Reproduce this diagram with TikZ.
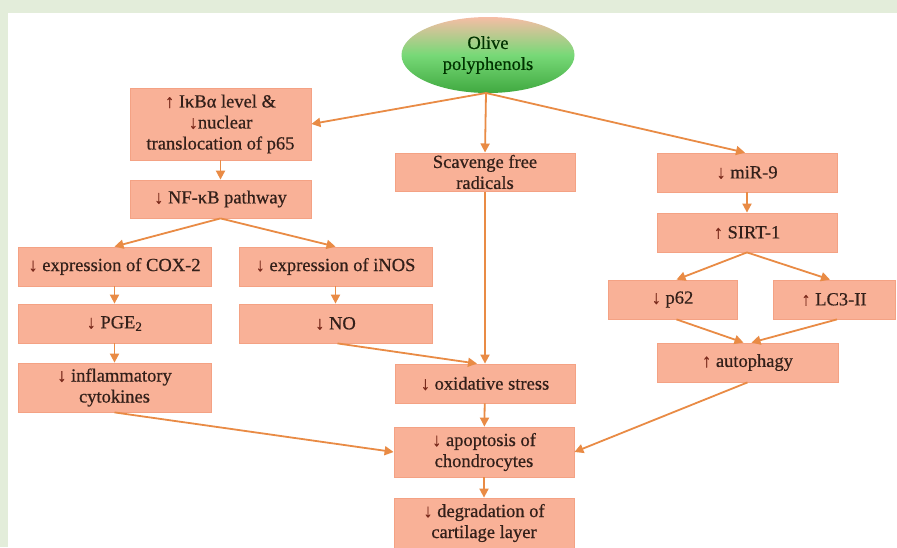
\documentclass[tikz,border=0pt]{standalone}
\usepackage{fontspec}
\setmainfont{Liberation Serif}
\newfontfamily\heavy{Liberation Serif}[FakeBold=0.6]
\usetikzlibrary{arrows.meta,shapes.geometric}
\definecolor{bggreen}{HTML}{E3EDDA}
\definecolor{boxfill}{HTML}{F9B197}
\definecolor{boxedge}{HTML}{F4A284}
\definecolor{arr}{HTML}{E98B45}
\definecolor{txt}{HTML}{33201A}
\definecolor{arrtxt}{HTML}{7A2A1C}
\newcommand{\dn}{{\color{arrtxt}↓}}
\newcommand{\upa}{{\color{arrtxt}↑}}
\tikzset{
  pbox/.style={rectangle, fill=boxfill, draw=boxedge, line width=0.8pt, text=txt,
    font=\heavy\fontsize{18.5}{21}\selectfont, align=center, inner sep=2pt},
  conn/.style={draw=arr, line width=1.8pt, -{Triangle[length=9pt,width=9pt]}},
}
\begin{document}
\begin{tikzpicture}[x=1pt,y=-1pt]
\useasboundingbox (0,0) rectangle (897,547);
\fill[bggreen] (0,0) rectangle (897,547);
\fill[white] (8,13) rectangle (897,547);

\node[ellipse, minimum width=173pt, minimum height=76pt, top color=boxfill!90!brown!80, bottom color=green!55!black!75, middle color=green!45!white!85!black, shading angle=0, text=green!20!black, font=\heavy\fontsize{18.5}{21}\selectfont, align=center, inner sep=0pt] (olive) at (488,55) {Olive\\polyphenols};
\coordinate (src) at (486,93);

\node[pbox, minimum width=181pt, minimum height=72pt] (b1) at (220.5,124) {\upa{} IκBα level \&\\\dn{}nuclear\\translocation of p65};
\node[pbox, minimum width=181pt, minimum height=38pt] (nfkb) at (220.5,199) {\dn{} NF-κB pathway};
\node[pbox, minimum width=180pt, minimum height=38pt] (scav) at (485,172) {Scavenge free\\radicals};
\node[pbox, minimum width=180pt, minimum height=39pt] (mir) at (747,172.5) {\dn{} miR-9};
\node[pbox, minimum width=180pt, minimum height=39pt] (sirt) at (747,232.5) {\upa{} SIRT-1};
\node[pbox, minimum width=129pt, minimum height=39pt] (p62) at (672.5,299.5) {\dn{} p62};
\node[pbox, minimum width=122pt, minimum height=39pt] (lc3) at (834,299.5) {\upa{} LC3-II};
\node[pbox, minimum width=181pt, minimum height=39pt] (auto) at (747.5,362.5) {\upa{} autophagy};
\node[pbox, minimum width=193pt, minimum height=39pt] (cox) at (114.5,266.5) {\dn{} expression of COX-2};
\node[pbox, minimum width=193pt, minimum height=39pt] (inos) at (335.5,266.5) {\dn{} expression of iNOS};
\node[pbox, minimum width=193pt, minimum height=39pt] (pge) at (114.5,323.5) {\dn{} PGE\textsubscript{2}};
\node[pbox, minimum width=193pt, minimum height=39pt] (no) at (335.5,323.5) {\dn{} NO};
\node[pbox, minimum width=193pt, minimum height=49pt] (cyto) at (114.5,387.5) {\dn{} inflammatory\\cytokines};
\node[pbox, minimum width=180pt, minimum height=39pt] (oxi) at (485,383.5) {\dn{} oxidative stress};
\node[pbox, minimum width=180pt, minimum height=50pt] (apo) at (484,452) {\dn{} apoptosis of\\chondrocytes};
\node[pbox, minimum width=180pt, minimum height=50pt] (deg) at (484,523) {\dn{} degradation of\\cartilage layer};

\draw[conn] (src) -- (b1.east);
\draw[conn] (src) -- (scav.north);
\draw[conn] (src) -- ([xshift=-2pt]mir.north);
\draw[conn] (b1) -- (nfkb);
\draw[conn] (nfkb.south) -- (cox.north);
\draw[conn] (nfkb.south) -- (inos.north);
\draw[conn] (cox) -- (pge);
\draw[conn] (pge) -- (cyto);
\draw[conn] (inos) -- (no);
\draw[conn] ([xshift=2pt]no.south) -- ([xshift=-8pt]oxi.north);
\draw[conn] (scav) -- (oxi);
\draw[conn] (oxi) -- (apo);
\draw[conn] (apo) -- (deg);
\draw[conn] (cyto.south) -- (apo.west);
\draw[conn] (auto.south) -- (apo.east);
\draw[conn] (mir) -- (sirt);
\draw[conn] (sirt.south) -- ([xshift=4pt]p62.north);
\draw[conn] (sirt.south) -- ([xshift=-4pt]lc3.north);
\draw[conn] ([xshift=4pt]p62.south) -- ([xshift=-4pt]auto.north);
\draw[conn] ([xshift=3pt]lc3.south) -- ([xshift=4pt]auto.north);
\end{tikzpicture}
\end{document}
